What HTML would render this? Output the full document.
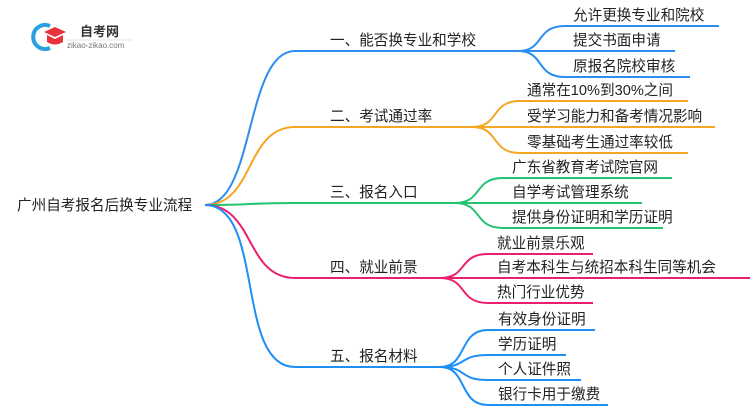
<!DOCTYPE html>
<html><head><meta charset="utf-8"><style>
html,body{margin:0;padding:0;background:#fff;width:750px;height:410px;overflow:hidden}
text{font-family:"Liberation Sans","Noto Sans CJK SC",sans-serif;font-size:14.6px;fill:#222}
</style></head><body>
<svg width="750" height="410" viewBox="0 0 750 410" xmlns="http://www.w3.org/2000/svg">
<g fill="none" stroke-width="2">
<!-- branch 1 blue -->
<path d="M205,205 C255,205 245,51 295,51 L518,51" stroke="#2b8ef0"/>
<path d="M518,51 C545,51 535,26 565,26 L719,26 M518,51 L675,51 M518,51 C545,51 535,77 565,77 L690,77" stroke="#2b8ef0"/>
<!-- branch 2 orange -->
<path d="M205,205 C255,205 245,127 295,127 L472,127" stroke="#f5a623"/>
<path d="M472,127 C500,127 490,101 520,101 L688,101 M472,127 L715,127 M472,127 C500,127 490,153 520,153 L688,153" stroke="#f5a623"/>
<!-- branch 3 green -->
<path d="M205,205 C255,205 245,203 295,203 L455,203" stroke="#22c272"/>
<path d="M455,203 C483,203 473,178 503,178 L672,178 M455,203 L642,203 M455,203 C483,203 473,228 503,228 L663,228" stroke="#22c272"/>
<!-- branch 4 pink -->
<path d="M205,205 C255,205 245,278 295,278 L440,278" stroke="#ec1f6e"/>
<path d="M440,278 C468,278 458,254 488,254 L593,254 M440,278 L750,278 M440,278 C468,278 458,303 488,303 L593,303" stroke="#ec1f6e"/>
<!-- branch 5 blue -->
<path d="M205,205 C265,205 235,367 295,367 L440,367" stroke="#1e8ff5"/>
<path d="M440,367 C468,367 458,330 488,330 L595,330 M440,367 C468,367 458,355 488,355 L566,355 M440,367 C468,367 458,380 488,380 L581,380 M440,367 C468,367 458,405 488,405 L608,405" stroke="#1e8ff5"/>
</g>
<!-- logo -->
<g>
<path d="M50,26 A12,12 0 1 0 50,48" fill="none" stroke="#2aa0e0" stroke-width="4"/>
<path d="M44,32 L55,27 L66,32 L55,37 Z" fill="#e8333a"/>
<path d="M47,35 L47,42 Q55,47 63,42 L63,35 L55,39 Z" fill="#e8333a"/>
<text x="80" y="36" style="font-size:13px;font-weight:bold;fill:#333">自考网</text>
<line x1="66" y1="40" x2="132" y2="40" stroke="#ddd" stroke-width="0.8"/>
<text x="67" y="48" style="font-size:8px;fill:#777">zikao-zikao.com</text>
</g>
<text x="17" y="210">广州自考报名后换专业流程</text>
<text x="330" y="45">一、能否换专业和学校</text>
<text x="330" y="121">二、考试通过率</text>
<text x="330" y="197">三、报名入口</text>
<text x="330" y="272">四、就业前景</text>
<text x="330" y="361">五、报名材料</text>
<text x="573" y="20">允许更换专业和院校</text>
<text x="573" y="45">提交书面申请</text>
<text x="573" y="71">原报名院校审核</text>
<text x="527" y="95">通常在10%到30%之间</text>
<text x="527" y="121">受学习能力和备考情况影响</text>
<text x="527" y="147">零基础考生通过率较低</text>
<text x="512" y="172">广东省教育考试院官网</text>
<text x="512" y="197">自学考试管理系统</text>
<text x="512" y="222">提供身份证明和学历证明</text>
<text x="497" y="248">就业前景乐观</text>
<text x="497" y="272">自考本科生与统招本科生同等机会</text>
<text x="497" y="297">热门行业优势</text>
<text x="498" y="324">有效身份证明</text>
<text x="498" y="349">学历证明</text>
<text x="498" y="374">个人证件照</text>
<text x="498" y="399">银行卡用于缴费</text>
</svg>
</body></html>
